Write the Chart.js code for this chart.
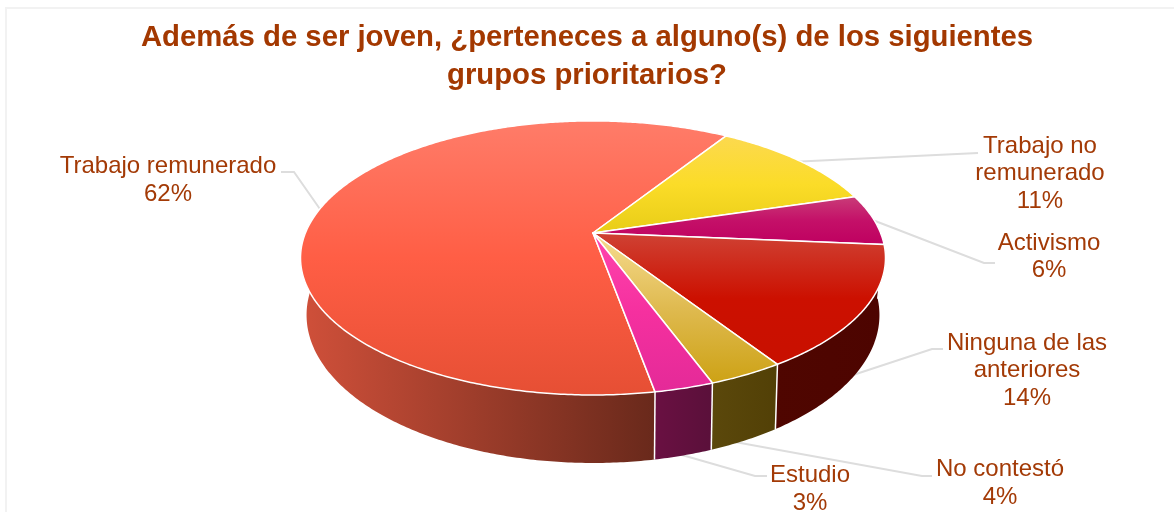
<!DOCTYPE html>
<html lang="es">
<head>
<meta charset="utf-8">
<title>Grupos prioritarios</title>
<script src="https://cdn.jsdelivr.net/npm/chart.js@4"></script>
<style>
    html, body { margin: 0; padding: 0; background: #ffffff; }
    #wrap { position: relative; width: 1174px; height: 512px; }
</style>
</head>
<body>
<div id="wrap"><canvas id="chart" width="1174" height="512"></canvas></div>
<script>
// Chart data
const categories = [
    'Trabajo remunerado',
    'Trabajo no remunerado',
    'Activismo',
    'Ninguna de las anteriores',
    'No contestó',
    'Estudio'
];
const shares = [61.8, 11.4, 6.0, 14.49, 3.55, 2.76];
const titleLines = [
    'Además de ser joven, ¿perteneces a alguno(s) de los siguientes',
    'grupos prioritarios?'
];

// Wrapped label text, same order as categories
const labelLines = [
    ['Trabajo remunerado'],
    ['Trabajo no', 'remunerado'],
    ['Activismo'],
    ['Ninguna de las', 'anteriores'],
    ['No contestó'],
    ['Estudio']
];

// Styles
const baseColors = ['#ff5e45', '#fbdd2a', '#c00060', '#cc1000', '#cfa418', '#f0309c'];
const topGradients = [
    ['#ff7c69', '#ff5e45', '#e64f34'],
    ['#fcd94f', '#fbdc28', '#e8cd17'],
    ['#c93c78', '#c41068', '#bf0060'],
    ['#cf4234', '#cc1000', '#c81000'],
    ['#f7dc90', '#dfba50', '#cda215'],
    ['#ff45ad', '#f5309f', '#e42a98']
];
const wallGradients = [
    ['#d0503a', '#69291b'],
    ['#8a7a10', '#8a7a10'],
    ['#600030', '#600030'],
    ['#4f0600', '#4d0400'],
    ['#5b480b', '#524006'],
    ['#6a1042', '#5a103a']
];
const labelColor = '#a33a06';
const leaderColor = '#dddddd';

// Label placement: centre x, and y of each line
const labelCenters = [168, 1040, 1049, 1027, 1000, 810];
const labelRows = [
    [166, 194],
    [146, 173, 201],
    [243, 270],
    [343, 370, 398],
    [469, 497],
    [475, 503]
];
const leaders = [
    [[281, 172], [294, 172], [322, 212]],
    [[790, 162], [978, 153]],
    [[870, 219], [984, 263], [995, 263]],
    [[850, 376], [932, 349], [943, 349]],
    [[735, 442], [922, 476], [932, 476]],
    [[675, 453], [755, 476], [767, 476]]
];

// Perspective used for the pie: top face and bottom rim
const topFace = { cx: 593, cy: 233, rx: 287.6, ry: 132.5, p: 0.182 };
const bottomFace = { cx: 593, cy: 286.3, rx: 281, ry: 142.4, p: 0.194 };

// phi is measured clockwise from the top, like the chart rotation
function project(face, phi) {
    const w = 1 + face.p * Math.cos(phi);
    return [
        face.cx + face.rx * Math.sin(phi) / w,
        face.cy - face.ry * Math.cos(phi) / w
    ];
}

function rimPoints(face, from, to) {
    const steps = Math.max(2, Math.ceil((to - from) / 0.01));
    const pts = [];
    for (let i = 0; i <= steps; i++) {
        pts.push(project(face, from + (to - from) * i / steps));
    }
    return pts;
}

function tracePoints(ctx, pts, start) {
    pts.forEach((pt, i) => {
        if (i === 0 && start) ctx.moveTo(pt[0], pt[1]);
        else ctx.lineTo(pt[0], pt[1]);
    });
}

function makeGradient(ctx, x0, y0, x1, y1, colors) {
    const grad = ctx.createLinearGradient(x0, y0, x1, y1);
    colors.forEach((c, i) => grad.addColorStop(i / (colors.length - 1), c));
    return grad;
}

// Walls and top face, using the angles Chart.js worked out for each arc
const pie3d = {
    id: 'pie3d',
    beforeDraw(chart) {
        const ctx = chart.ctx;
        ctx.save();
        ctx.strokeStyle = '#f2f2f2';
        ctx.lineWidth = 2;
        ctx.beginPath();
        ctx.moveTo(6, 512);
        ctx.lineTo(6, 8);
        ctx.lineTo(1174, 8);
        ctx.stroke();
        ctx.restore();
    },
    beforeDatasetDraw(chart, args) {
        const ctx = chart.ctx;
        const arcs = args.meta.data;
        const wallFrom = 70 * Math.PI / 180;
        const wallTo = 290 * Math.PI / 180;
        const turn = Math.PI * 2;

        ctx.save();

        // leader lines sit behind the pie
        ctx.strokeStyle = leaderColor;
        ctx.lineWidth = 2;
        leaders.forEach(line => {
            ctx.beginPath();
            tracePoints(ctx, line, true);
            ctx.stroke();
        });

        // walls first, top face goes over them
        arcs.forEach((arc, i) => {
            for (const shift of [0, turn]) {
                const a = Math.max(arc.startAngle + Math.PI / 2 - shift, wallFrom);
                const b = Math.min(arc.endAngle + Math.PI / 2 - shift, wallTo);
                if (b <= a) continue;
                const topPts = rimPoints(topFace, a, b);
                const botPts = rimPoints(bottomFace, a, b).reverse();
                const xs = topPts.concat(botPts).map(pt => pt[0]);
                ctx.beginPath();
                tracePoints(ctx, topPts, true);
                tracePoints(ctx, botPts, false);
                ctx.closePath();
                ctx.fillStyle = makeGradient(ctx, Math.min(...xs), 0, Math.max(...xs), 0, wallGradients[i]);
                ctx.fill();
            }
        });

        // white seams between the walls
        ctx.strokeStyle = '#ffffff';
        ctx.lineWidth = 1.5;
        arcs.forEach(arc => {
            const phi = (arc.startAngle + Math.PI / 2 + turn) % turn;
            if (phi < wallFrom || phi > wallTo) return;
            const t = project(topFace, phi);
            const b = project(bottomFace, phi);
            ctx.beginPath();
            ctx.moveTo(t[0], t[1]);
            ctx.lineTo(b[0], b[1]);
            ctx.stroke();
        });

        arcs.forEach((arc, i) => {
            const pts = rimPoints(topFace, arc.startAngle + Math.PI / 2, arc.endAngle + Math.PI / 2);
            const ys = pts.map(pt => pt[1]).concat(topFace.cy);
            ctx.beginPath();
            ctx.moveTo(topFace.cx, topFace.cy);
            tracePoints(ctx, pts, false);
            ctx.closePath();
            ctx.fillStyle = makeGradient(ctx, 0, Math.min(...ys), 0, Math.max(...ys), topGradients[i]);
            ctx.fill();
            ctx.strokeStyle = '#ffffff';
            ctx.lineWidth = 1.5;
            ctx.lineJoin = 'round';
            ctx.stroke();
        });

        ctx.restore();
        return false;
    },
    afterDraw(chart) {
        const ctx = chart.ctx;
        const values = chart.data.datasets[0].data;
        const total = values.reduce((sum, v) => sum + v, 0);

        ctx.save();
        ctx.font = '24px "Liberation Sans", Arial, sans-serif';
        ctx.fillStyle = labelColor;
        ctx.textAlign = 'center';
        ctx.textBaseline = 'middle';
        labelLines.forEach((lines, i) => {
            const pct = Math.round(values[i] / total * 100) + '%';
            lines.concat(pct).forEach((text, row) => {
                ctx.fillText(text, labelCenters[i], labelRows[i][row]);
            });
        });
        ctx.restore();
    }
};

new Chart(document.getElementById('chart'), {
    type: 'pie',
    data: {
        labels: categories,
        datasets: [{
            data: shares,
            backgroundColor: baseColors,
            borderColor: '#ffffff',
            borderWidth: 1.5
        }]
    },
    options: {
        responsive: false,
        animation: false,
        rotation: 169.8,
        plugins: {
            legend: { display: false },
            tooltip: { enabled: false },
            title: {
                display: true,
                text: titleLines,
                color: '#a33800',
                font: { family: '"Liberation Sans", Arial, sans-serif', size: 29.3, weight: 'bold', lineHeight: 1.3 },
                padding: { top: 19, bottom: 10 }
            }
        }
    },
    plugins: [pie3d]
});
</script>
</body>
</html>
